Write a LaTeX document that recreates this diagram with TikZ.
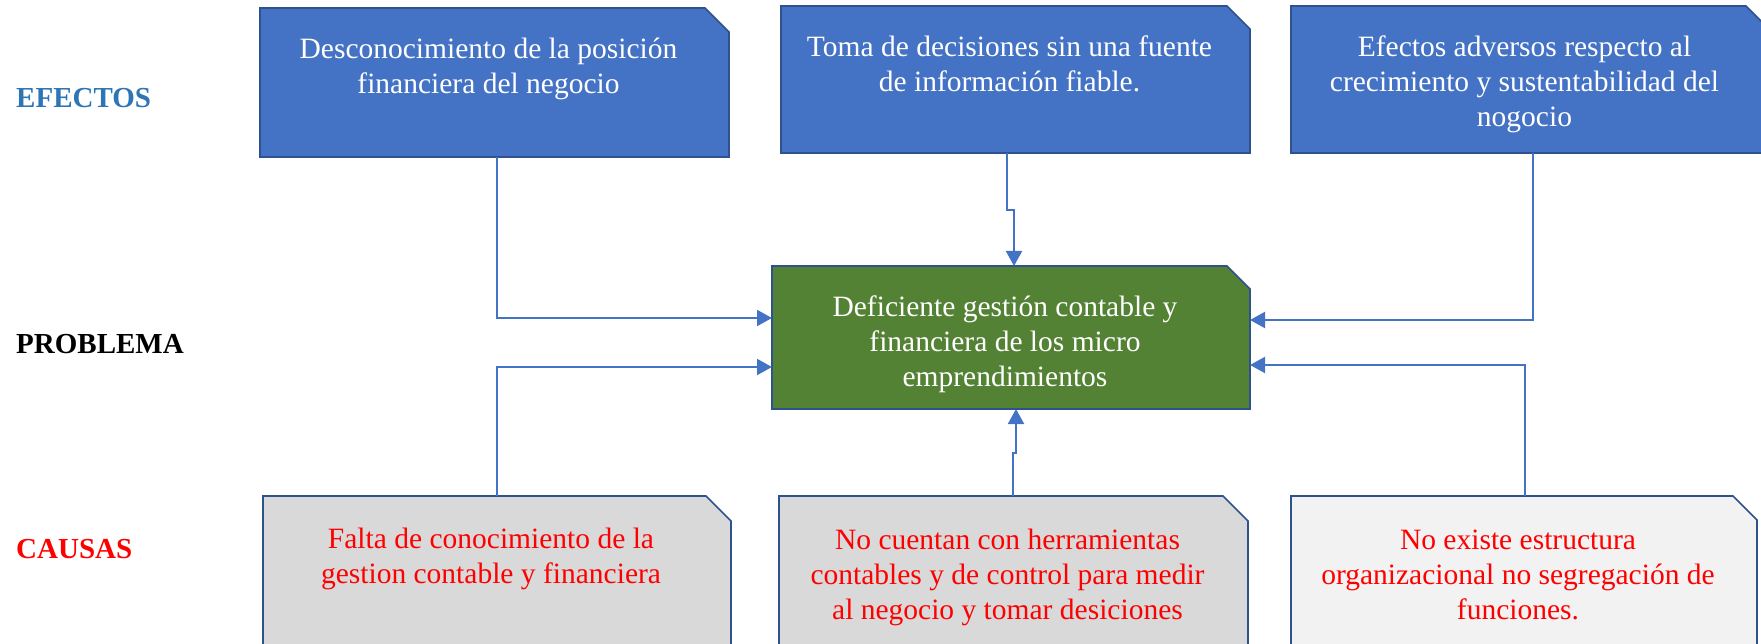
\documentclass[tikz,border=0pt]{standalone}
\usepackage{fontspec}
\setmainfont{Liberation Serif}
\usetikzlibrary{arrows.meta}
\definecolor{effblue}{HTML}{4472C4}
\definecolor{edgeblue}{HTML}{2F528F}
\definecolor{probgreen}{HTML}{548235}
\definecolor{causegray}{HTML}{D9D9D9}
\definecolor{causelight}{HTML}{F2F2F2}
\definecolor{lblblue}{HTML}{2E75B6}
\definecolor{lblred}{HTML}{FF0000}
\newcommand\snipshape[3]{%
  \filldraw[#3] (#1.north west) -- ([xshift=-#2]#1.north east) -- ([yshift=-#2]#1.north east)
     -- (#1.south east) -- (#1.south west) -- cycle;}
\tikzset{
  boxn/.style={rectangle, inner sep=0pt, outer sep=0pt},
  shapeE/.style={fill=effblue, draw=edgeblue, line width=1.6pt},
  shapeP/.style={fill=probgreen, draw=edgeblue, line width=1.6pt},
  shapeC/.style={fill=causegray, draw=edgeblue, line width=1.6pt},
  shapeCL/.style={fill=causelight, draw=edgeblue, line width=1.6pt},
  btext/.style={anchor=base, align=center, inner sep=0pt, font=\fontsize{29.5}{35}\selectfont},
  wtext/.style={btext, text=white},
  rtext/.style={btext, text=lblred},
  lbl/.style={anchor=base west, inner sep=0pt, font=\fontsize{29}{35}\selectfont\bfseries},
  conn/.style={draw=effblue, line width=2pt, -{Triangle[length=15pt,width=16pt]}}
}
\begin{document}
\begin{tikzpicture}[x=1pt,y=-1pt]
\useasboundingbox (0,0) rectangle (1761,644);
\clip (0,0) rectangle (1761,644);
% box nodes
\node[boxn, minimum width=469pt, minimum height=149pt] (e1) at (494.5,82.5) {};
\node[boxn, minimum width=469pt, minimum height=147pt] (e2) at (1015.5,79.5) {};
\node[boxn, minimum width=479pt, minimum height=147pt] (e3) at (1530.5,79.5) {};
\node[boxn, minimum width=478pt, minimum height=143pt] (p) at (1011,337.5) {};
\node[boxn, minimum width=468pt, minimum height=164pt] (cA) at (497,578) {};
\node[boxn, minimum width=469pt, minimum height=164pt] (cB) at (1013.5,578) {};
\node[boxn, minimum width=466pt, minimum height=164pt] (cC) at (1524,578) {};
% shapes
\snipshape{e1}{24pt}{shapeE}
\snipshape{e2}{23pt}{shapeE}
\snipshape{e3}{24pt}{shapeE}
\snipshape{p}{23pt}{shapeP}
\snipshape{cA}{25pt}{shapeC}
\snipshape{cB}{25pt}{shapeC}
\snipshape{cC}{24pt}{shapeCL}
% texts (anchor base = baseline of the last line)
\node[wtext] (e1t) at ([xshift=-6pt,yshift=-86pt]e1.north) {Desconocimiento de la posición\\financiera del negocio};
\node[wtext] (e2t) at ([xshift=-6pt,yshift=-86pt]e2.north) {Toma de decisiones sin una fuente\\de información fiable.};
\node[wtext] (e3t) at ([xshift=-6pt,yshift=-121pt]e3.north) {Efectos adversos respecto al\\crecimiento y sustentabilidad del\\nogocio};
\node[wtext] (pt) at ([xshift=-6pt,yshift=-120pt]p.north) {Deficiente gestión contable y\\financiera de los micro\\emprendimientos};
\node[rtext] (cAt) at ([xshift=-6pt,yshift=-87pt]cA.north) {Falta de conocimiento de la\\gestion contable y financiera};
\node[rtext] (cBt) at ([xshift=-6pt,yshift=-123pt]cB.north) {No cuentan con herramientas\\contables y de control para medir\\al negocio y tomar desiciones};
\node[rtext] (cCt) at ([xshift=-6pt,yshift=-123pt]cC.north) {No existe estructura\\organizacional no segregación de\\funciones.};
% labels
\node[lbl, text=lblblue] (lefe) at (16,108) {EFECTOS};
\node[lbl, text=black] (lprob) at (16,353) {PROBLEMA};
\node[lbl, text=lblred] (lcau) at (16,558) {CAUSAS};
% connectors
\coordinate (j2) at (1014,210);
\coordinate (jB) at (1016,453);
\draw[conn] ([xshift=2.5pt]e1.south) |- ([yshift=19.5pt]p.west);
\draw[conn] ([xshift=-8.5pt]e2.south) |- (j2) -- ([xshift=3pt]p.north);
\draw[conn] ([xshift=2.5pt]e3.south) |- ([yshift=17.5pt]p.east);
\draw[conn] (cA.north) |- ([yshift=-29.5pt]p.west);
\draw[conn] ([xshift=-0.5pt]cB.north) |- (jB) -- ([xshift=5pt]p.south);
\draw[conn] ([xshift=1pt]cC.north) |- ([yshift=-27.5pt]p.east);
\end{tikzpicture}
\end{document}
